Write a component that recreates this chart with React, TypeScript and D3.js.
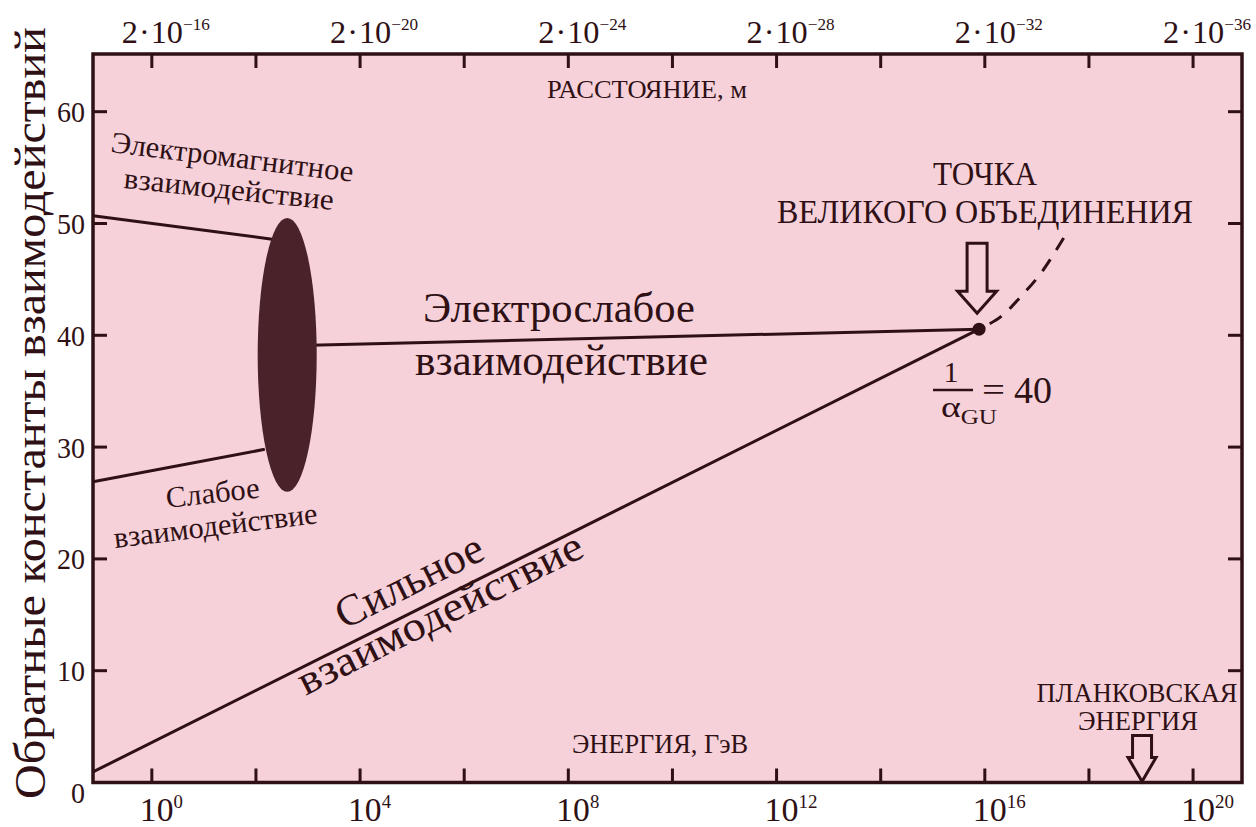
import React from "react";
import * as d3 from "d3";

// ---- data (x in log10(E / GeV), y = 1/alpha) ----
const energyTickExps = [0, 2, 4, 6, 8, 10, 12, 14, 16, 18, 20];
const energyLabelExps = [0, 4, 8, 12, 16, 20];
const distanceLabelExps = ["−16", "−20", "−24", "−28", "−32", "−36"];
const yTickValues = [0, 10, 20, 30, 40, 50, 60];
const yRightTicks = [10, 20, 30, 40, 50, 60];

const emLine: [number, number][] = [[-1.13, 50.7], [2.31, 48.6]];
const weakLine: [number, number][] = [[-1.13, 26.9], [2.17, 29.8]];
const electroweakLine: [number, number][] = [[3.04, 39.1], [15.89, 40.55]];
const strongLine: [number, number][] = [[-1.13, 0.95], [15.89, 40.55]];
const gutExtrapolation: [number, number][] = [
  [15.89, 40.55], [16.29, 41.6], [16.68, 43.4], [17.1, 45.7], [17.58, 49.2],
];
const gutPoint: [number, number] = [15.89, 40.55];
const planckExp = 19.02;
const ellipseCenter: [number, number] = [2.6, 38.25];
const ellipseRadii: [number, number] = [0.567, 12.25];

const W = 1256;
const H = 827;
const PINK = "#f7d1d9";
const DARK = "#2e1015";
const ELL = "#4a232a";
const FONT = '"Liberation Serif", "Times New Roman", Tinos, "DejaVu Serif", "Noto Serif", serif';

const x = d3.scaleLinear().domain([-1.13, 20.94]).range([93, 1242]);
const y = d3.scaleLinear().domain([0, 65.16]).range([782.5, 54]);

const line = d3.line<[number, number]>().x((d) => x(d[0])).y((d) => y(d[1]));
const curve = d3
  .line<[number, number]>()
  .x((d) => x(d[0]))
  .y((d) => y(d[1]))
  .curve(d3.curveCatmullRom);

function arrowPath(tx: number, ty: number, shaftHalf: number, headHalf: number, headLen: number, total: number) {
  return `M${tx - shaftHalf},${ty - total} L${tx + shaftHalf},${ty - total} L${tx + shaftHalf},${ty - headLen} L${tx + headHalf},${ty - headLen} L${tx},${ty} L${tx - headHalf},${ty - headLen} L${tx - shaftHalf},${ty - headLen} Z`;
}

// point on strong line at log E = t, shifted perpendicular by d px (positive = below the line)
function strongAnchor(t: number, d: number) {
  const [a, b] = strongLine;
  const v = a[1] + ((t - a[0]) * (b[1] - a[1])) / (b[0] - a[0]);
  const dx = x(b[0]) - x(a[0]);
  const dy = y(b[1]) - y(a[1]);
  const len = Math.hypot(dx, dy);
  const nx = -dy / len;
  const ny = dx / len;
  return [x(t) + nx * d, y(v) + ny * d];
}

const textStyle = { fontFamily: FONT };

export default function App() {
  const [x0, x1] = x.range();
  const [yb, yt] = y.range();
  const strongAngle =
    (Math.atan2(y(strongLine[1][1]) - y(strongLine[0][1]), x(strongLine[1][0]) - x(strongLine[0][0])) * 180) / Math.PI;
  const [sx1, sy1] = strongAnchor(3.82, -15);
  const [sx2, sy2] = strongAnchor(2.72, 27);

  return (
    <svg
      width={W}
      height={H}
      style={{ position: "absolute", left: 0, top: 0, background: "#fff", fontFamily: FONT }}
    >
      {/* plot area */}
      <rect x={x0} y={yt} width={x1 - x0} height={yb - yt} fill={PINK} />

      {/* ticks */}
      {energyTickExps.map((e) => (
        <g key={"t" + e} stroke={DARK} strokeWidth={3}>
          <line x1={x(e)} x2={x(e)} y1={yb} y2={yb - 14} />
          <line x1={x(e)} x2={x(e)} y1={yt} y2={yt + 14} />
        </g>
      ))}
      {yTickValues.map((v) => (
        <line key={"yl" + v} x1={x0} x2={x0 + 14} y1={y(v)} y2={y(v)} stroke={DARK} strokeWidth={3} />
      ))}
      {yRightTicks.map((v) => (
        <line key={"yr" + v} x1={x1} x2={x1 - 14} y1={y(v)} y2={y(v)} stroke={DARK} strokeWidth={3} />
      ))}

      {/* curves */}
      <path d={line(emLine)!} fill="none" stroke={DARK} strokeWidth={3} />
      <path d={line(weakLine)!} fill="none" stroke={DARK} strokeWidth={3} />
      <path d={line(electroweakLine)!} fill="none" stroke={DARK} strokeWidth={3} />
      <path d={line(strongLine)!} fill="none" stroke={DARK} strokeWidth={3} />
      <path d={curve(gutExtrapolation)!} fill="none" stroke={DARK} strokeWidth={3} strokeDasharray="14 11" strokeDashoffset={-12} />
      <ellipse
        cx={x(ellipseCenter[0])}
        cy={y(ellipseCenter[1])}
        rx={x(ellipseCenter[0] + ellipseRadii[0]) - x(ellipseCenter[0])}
        ry={y(ellipseCenter[1]) - y(ellipseCenter[1] + ellipseRadii[1])}
        fill={ELL}
      />
      <circle cx={x(gutPoint[0])} cy={y(gutPoint[1])} r={6.5} fill={DARK} />

      {/* arrows */}
      <path
        d={arrowPath(x(gutPoint[0]) - 2, y(gutPoint[1]) - 16, 10, 19.5, 22, 70)}
        fill="none"
        stroke={DARK}
        strokeWidth={3}
      />
      <path d={arrowPath(x(planckExp), yb - 1, 9.5, 14, 24, 46)} fill="none" stroke={DARK} strokeWidth={3} />

      {/* frame */}
      <rect x={x0} y={yt} width={x1 - x0} height={yb - yt} fill="none" stroke={DARK} strokeWidth={3.5} />

      <g fill={DARK} style={textStyle}>
        {/* y tick labels */}
        {yTickValues.map((v) => (
          <text
            key={"yt" + v}
            x={85}
            y={y(v) + (v === 0 ? 10 : 0)}
            textAnchor="end"
            dominantBaseline="central"
            fontSize={30}
            textLength={String(v).length * 14}
            lengthAdjust="spacingAndGlyphs"
          >
            {v}
          </text>
        ))}

        {/* bottom labels */}
        {energyLabelExps.map((e) => (
          <text
            key={"bl" + e}
            x={x(e) - 12}
            y={821}
            fontSize={34}
            textLength={String(e).length > 1 ? 53 : 43}
            lengthAdjust="spacingAndGlyphs"
          >
            10
            <tspan fontSize={19} dy={-13}>
              {e}
            </tspan>
          </text>
        ))}

        {/* top labels */}
        {energyLabelExps.map((e, i) => (
          <text key={"tl" + e} x={x(e) - 30} y={43} fontSize={32} textLength={88} lengthAdjust="spacingAndGlyphs">
            2<tspan dx={1}>·</tspan>
            <tspan dx={1}>10</tspan>
            <tspan fontSize={17} dy={-13}>
              {distanceLabelExps[i]}
            </tspan>
          </text>
        ))}

        {/* axis title */}
        <text
          transform="translate(45,413) rotate(-90)"
          textAnchor="middle"
          fontSize={44}
          textLength={772}
          lengthAdjust="spacingAndGlyphs"
        >
          Обратные константы взаимодействий
        </text>

        {/* in-plot axis names */}
        <text x={647} y={98} textAnchor="middle" fontSize={26} textLength={200} lengthAdjust="spacingAndGlyphs">
          РАССТОЯНИЕ, м
        </text>
        <text x={660} y={753} textAnchor="middle" fontSize={27} textLength={176} lengthAdjust="spacingAndGlyphs">
          ЭНЕРГИЯ, ГэВ
        </text>
        <text x={1137} y={702} textAnchor="middle" fontSize={27} textLength={201} lengthAdjust="spacingAndGlyphs">
          ПЛАНКОВСКАЯ
        </text>
        <text x={1138} y={730} textAnchor="middle" fontSize={27} textLength={120} lengthAdjust="spacingAndGlyphs">
          ЭНЕРГИЯ
        </text>

        {/* GUT label */}
        <text x={985} y={185} textAnchor="middle" fontSize={33} textLength={104} lengthAdjust="spacingAndGlyphs">
          ТОЧКА
        </text>
        <text x={985} y={223} textAnchor="middle" fontSize={33} textLength={416} lengthAdjust="spacingAndGlyphs">
          ВЕЛИКОГО ОБЪЕДИНЕНИЯ
        </text>

        {/* electromagnetic */}
        <text x={110} y={152} transform="rotate(7,110,152)" fontSize={30} textLength={244} lengthAdjust="spacingAndGlyphs">
          Электромагнитное
        </text>
        <text x={123} y={188} transform="rotate(6,123,188)" fontSize={30} textLength={211} lengthAdjust="spacingAndGlyphs">
          взаимодействие
        </text>

        {/* weak */}
        <text x={167} y={508} transform="rotate(-6.5,167,508)" fontSize={30} textLength={94} lengthAdjust="spacingAndGlyphs">
          Слабое
        </text>
        <text x={115} y={548} transform="rotate(-7,115,548)" fontSize={30} textLength={205} lengthAdjust="spacingAndGlyphs">
          взаимодействие
        </text>

        {/* electroweak */}
        <text x={423} y={322} fontSize={42} textLength={272} lengthAdjust="spacingAndGlyphs">
          Электрослабое
        </text>
        <text x={415} y={375} fontSize={44} textLength={293} lengthAdjust="spacingAndGlyphs">
          взаимодействие
        </text>

        {/* strong */}
        <text
          x={sx1}
          y={sy1}
          transform={`rotate(${strongAngle},${sx1},${sy1})`}
          fontSize={44}
          textLength={160}
          lengthAdjust="spacingAndGlyphs"
        >
          Сильное
        </text>
        <text
          x={sx2}
          y={sy2}
          transform={`rotate(${strongAngle},${sx2},${sy2})`}
          fontSize={42}
          textLength={314}
          lengthAdjust="spacingAndGlyphs"
        >
          взаимодействие
        </text>

        {/* 1/alpha_GU = 40 */}
        <text x={951} y={382} textAnchor="middle" fontSize={30}>
          1
        </text>
        <text x={941} y={417} fontSize={30} textLength={56} lengthAdjust="spacingAndGlyphs">
          α<tspan fontSize={20} dy={7}>GU</tspan>
        </text>
        <text x={982} y={401} fontSize={34} textLength={23} lengthAdjust="spacingAndGlyphs">
          =
        </text>
        <text x={1014} y={403} fontSize={37} textLength={38} lengthAdjust="spacingAndGlyphs">
          40
        </text>
      </g>
      <line x1={933} x2={973} y1={390} y2={390} stroke={DARK} strokeWidth={2.5} />
    </svg>
  );
}
